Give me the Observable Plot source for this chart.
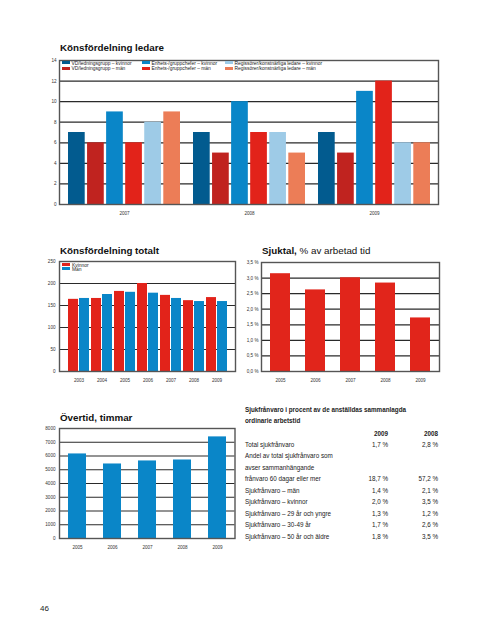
<!DOCTYPE html>
<html>
<head>
<meta charset="utf-8">
<script src="https://cdn.jsdelivr.net/npm/d3@7"></script>
<script src="https://cdn.jsdelivr.net/npm/@observablehq/plot@0.6"></script>
<style>
  html, body { margin: 0; padding: 0; background: #fff; }
  body { font-family: "Liberation Sans", Arial, Helvetica, sans-serif; color: #111; }
  #page { position: relative; width: 480px; height: 640px; overflow: hidden; }
  .abs { position: absolute; }
  .title { position: absolute; font-weight: bold; font-size: 9.8px; white-space: nowrap; color: #111; }
  .lg { position: absolute; font-size: 4.9px; line-height: 6px; white-space: nowrap; color: #222; }
  .lg span.sw { display: inline-block; width: 7.5px; height: 3.4px; margin-right: 2px; vertical-align: 0.3px; }
  .row { position: absolute; font-size: 6.3px; white-space: nowrap; color: #222; }
  .num { position: absolute; font-size: 6.3px; white-space: nowrap; text-align: right; width: 40px; color: #222; }
</style>
</head>
<body>
<div id="page"></div>
<script>
// ---------- DATA ----------
const ledareYears = ["2007", "2008", "2009"];
const ledareSeries = [
  "VD/ledningsgrupp – kvinnor",
  "VD/ledningsgrupp – män",
  "Enhets-/gruppchefer – kvinnor",
  "Enhets-/gruppchefer – män",
  "Regissörer/konstnärliga ledare – kvinnor",
  "Regissörer/konstnärliga ledare – män"
];
const ledareColors = ["#025b8f", "#c0231f", "#0a86c8", "#e2231a", "#9ecbe7", "#ec7d57"];
const ledareValues = [
  [7, 7, 7],
  [6, 5, 5],
  [9, 10, 11],
  [6, 7, 12],
  [8, 7, 6],
  [9, 5, 6]
];
const ledareTicks = [0, 2, 4, 6, 8, 10, 12, 14];

const totaltYears = ["2003", "2004", "2005", "2006", "2007", "2008", "2009"];
const totaltSeries = ["Kvinnor", "Män"];
const totaltColors = ["#e2231a", "#0a86c8"];
const totaltKvinnor = [164, 166, 182, 200, 173, 161, 168];
const totaltMan = [166, 175, 180, 178, 166, 159, 159];
const totaltTicks = [0, 50, 100, 150, 200, 250];

const sjukYears = ["2005", "2006", "2007", "2008", "2009"];
const sjukValues = [3.14, 2.62, 3.01, 2.84, 1.72];
const sjukTicks = [0, 0.5, 1, 1.5, 2, 2.5, 3, 3.5];

const overtidYears = ["2005", "2006", "2007", "2008", "2009"];
const overtidValues = [6150, 5420, 5640, 5710, 7390];
const overtidTicks = [0, 1000, 2000, 3000, 4000, 5000, 6000, 7000, 8000];

const tableTitle = ["Sjukfrånvaro i procent av de anställdas sammanlagda", "ordinarie arbetstid"];
const tableHeader = ["2009", "2008"];
const tableLabels = [
  "Total sjukfrånvaro",
  "Andel av total sjukfrånvaro som",
  "avser sammanhängande",
  "frånvaro 60 dagar eller mer",
  "Sjukfrånvaro – män",
  "Sjukfrånvaro – kvinnor",
  "Sjukfrånvaro – 29 år och yngre",
  "Sjukfrånvaro – 30-49 år",
  "Sjukfrånvaro – 50 år och äldre"
];
const table2009 = ["1,7 %", "", "", "18,7 %", "1,4 %", "2,0 %", "1,3 %", "1,7 %", "1,8 %"];
const table2008 = ["2,8 %", "", "", "57,2 %", "2,1 %", "3,5 %", "1,2 %", "2,6 %", "3,5 %"];

// ---------- HELPERS ----------
const page = document.getElementById("page");
const FONT = '"Liberation Sans", Arial, Helvetica, sans-serif';
function place(el, left, top) {
  el.style.position = "absolute";
  el.style.left = left + "px";
  el.style.top = top + "px";
  el.style.background = "transparent";
  page.appendChild(el);
  return el;
}
function addDiv(cls, html, left, top, extra) {
  const d = document.createElement("div");
  d.className = cls;
  d.innerHTML = html;
  d.style.left = left + "px";
  d.style.top = top + "px";
  if (extra) Object.assign(d.style, extra);
  page.appendChild(d);
  return d;
}
const gridStroke = "#2a2a2a";
const frameStroke = "#555";
const plotStyle = {fontFamily: FONT, fontSize: "4.6px", color: "#333", background: "transparent"};

// ---------- CHART 1: Könsfördelning ledare ----------
const ledareData = [];
ledareSeries.forEach((s, i) => ledareYears.forEach((y, j) => ledareData.push({series: s, year: y, value: ledareValues[i][j]})));
const bw1 = 112, step1 = 19.06, w1 = 16.7;
const chart1 = Plot.plot({
  width: 440, height: 180,
  marginLeft: 39, marginRight: 22, marginTop: 15, marginBottom: 21,
  style: plotStyle,
  x: {domain: ledareYears, paddingInner: 0.104, paddingOuter: 0.068, tickSize: 0, tickPadding: 7, label: null},
  y: {domain: [0, 14], ticks: ledareTicks, tickSize: 0, tickPadding: 3, label: null},
  color: {domain: ledareSeries, range: ledareColors},
  marks: [
    Plot.ruleY(ledareTicks, {stroke: gridStroke, strokeWidth: 1.2}),
    ...ledareSeries.map((s, i) => Plot.barY(ledareData.filter(d => d.series === s), {
      x: "year", y: "value", fill: "series",
      insetLeft: i * step1, insetRight: bw1 - i * step1 - w1
    })),
    Plot.frame({stroke: frameStroke, strokeWidth: 1.4})
  ]
});
place(chart1, 20, 45);
addDiv("title", "Könsfördelning ledare", 60, 42);
// legend: three columns of two
const legCols = [62, 142, 225];
ledareSeries.forEach((s, i) => {
  const col = Math.floor(i / 2), row = i % 2;
  addDiv("lg", `<span class="sw" style="background:${ledareColors[i]}"></span>${s}`, legCols[col], 60.5 + row * 5.8);
});

// ---------- CHART 2: Könsfördelning totalt ----------
const totaltData = [];
totaltYears.forEach((y, j) => {
  totaltData.push({series: "Kvinnor", year: y, value: totaltKvinnor[j]});
  totaltData.push({series: "Män", year: y, value: totaltMan[j]});
});
const bw2 = 21.0, w2 = 10.0;
const chart2 = Plot.plot({
  width: 230, height: 140,
  marginLeft: 39, marginRight: 15, marginTop: 11, marginBottom: 19,
  style: plotStyle,
  x: {domain: totaltYears, paddingInner: 0.1, paddingOuter: 0.32, tickSize: 0, tickPadding: 7, label: null},
  y: {domain: [0, 250], ticks: totaltTicks, tickSize: 0, tickPadding: 4, label: null},
  color: {domain: totaltSeries, range: totaltColors},
  marks: [
    Plot.ruleY(totaltTicks, {stroke: gridStroke, strokeWidth: 1.2}),
    ...totaltSeries.map((s, i) => Plot.barY(totaltData.filter(d => d.series === s), {
      x: "year", y: "value", fill: "series",
      insetLeft: i * (bw2 - w2), insetRight: (1 - i) * (bw2 - w2)
    })),
    Plot.frame({stroke: frameStroke, strokeWidth: 1.4})
  ]
});
place(chart2, 20, 250);
addDiv("title", "Könsfördelning totalt", 60, 245);
totaltSeries.forEach((s, i) => {
  addDiv("lg", `<span class="sw" style="background:${totaltColors[i]};width:8px;height:3.6px"></span>${s}`, 62, 262.5 + i * 4.2, {lineHeight: "4.2px"});
});

// ---------- CHART 3: Sjuktal ----------
const sjukData = sjukYears.map((y, j) => ({year: y, value: sjukValues[j]}));
const chart3 = Plot.plot({
  width: 224, height: 140,
  marginLeft: 25, marginRight: 21, marginTop: 12, marginBottom: 19,
  style: plotStyle,
  x: {domain: sjukYears, paddingInner: 0.433, paddingOuter: 0.24, tickSize: 0, tickPadding: 7, label: null},
  y: {domain: [0, 3.5], ticks: sjukTicks, tickSize: 0, tickPadding: 3, label: null,
      tickFormat: d => d.toFixed(1).replace(".", ",") + " %"},
  marks: [
    Plot.ruleY(sjukTicks, {stroke: gridStroke, strokeWidth: 1.2}),
    Plot.barY(sjukData, {x: "year", y: "value", fill: "#e1251b"}),
    Plot.frame({stroke: frameStroke, strokeWidth: 1.4})
  ]
});
place(chart3, 236, 250);
addDiv("title", "Sjuktal, <span style='font-weight:normal'>% av arbetad tid</span>", 262, 245);

// ---------- CHART 4: Övertid ----------
const overtidData = overtidYears.map((y, j) => ({year: y, value: overtidValues[j]}));
const chart4 = Plot.plot({
  width: 230, height: 140,
  marginLeft: 39, marginRight: 15.5, marginTop: 8, marginBottom: 22,
  style: plotStyle,
  x: {domain: overtidYears, paddingInner: 0.49, paddingOuter: 0.25, tickSize: 0, tickPadding: 7, label: null},
  y: {domain: [0, 8000], ticks: overtidTicks, tickSize: 0, tickPadding: 4, label: null, tickFormat: d3.format("d")},
  marks: [
    Plot.ruleY(overtidTicks, {stroke: gridStroke, strokeWidth: 1.2}),
    Plot.barY(overtidData, {x: "year", y: "value", fill: "#0a86c8"}),
    Plot.frame({stroke: frameStroke, strokeWidth: 1.4})
  ]
});
place(chart4, 20, 420);
addDiv("title", "Övertid, timmar", 60, 412);

// ---------- TABLE ----------
tableTitle.forEach((t, i) => addDiv("row", t, 245, 406 + i * 10.6, {fontWeight: "bold"}));
addDiv("num", tableHeader[0], 348, 430, {fontWeight: "bold"});
addDiv("num", tableHeader[1], 398, 430, {fontWeight: "bold"});
tableLabels.forEach((t, i) => {
  const top = 440.5 + i * 11.55;
  addDiv("row", t, 245, top);
  if (table2009[i]) addDiv("num", table2009[i], 348, top);
  if (table2008[i]) addDiv("num", table2008[i], 398, top);
});

// page number
addDiv("row", "46", 40, 604, {fontSize: "8px"});
</script>
</body>
</html>
